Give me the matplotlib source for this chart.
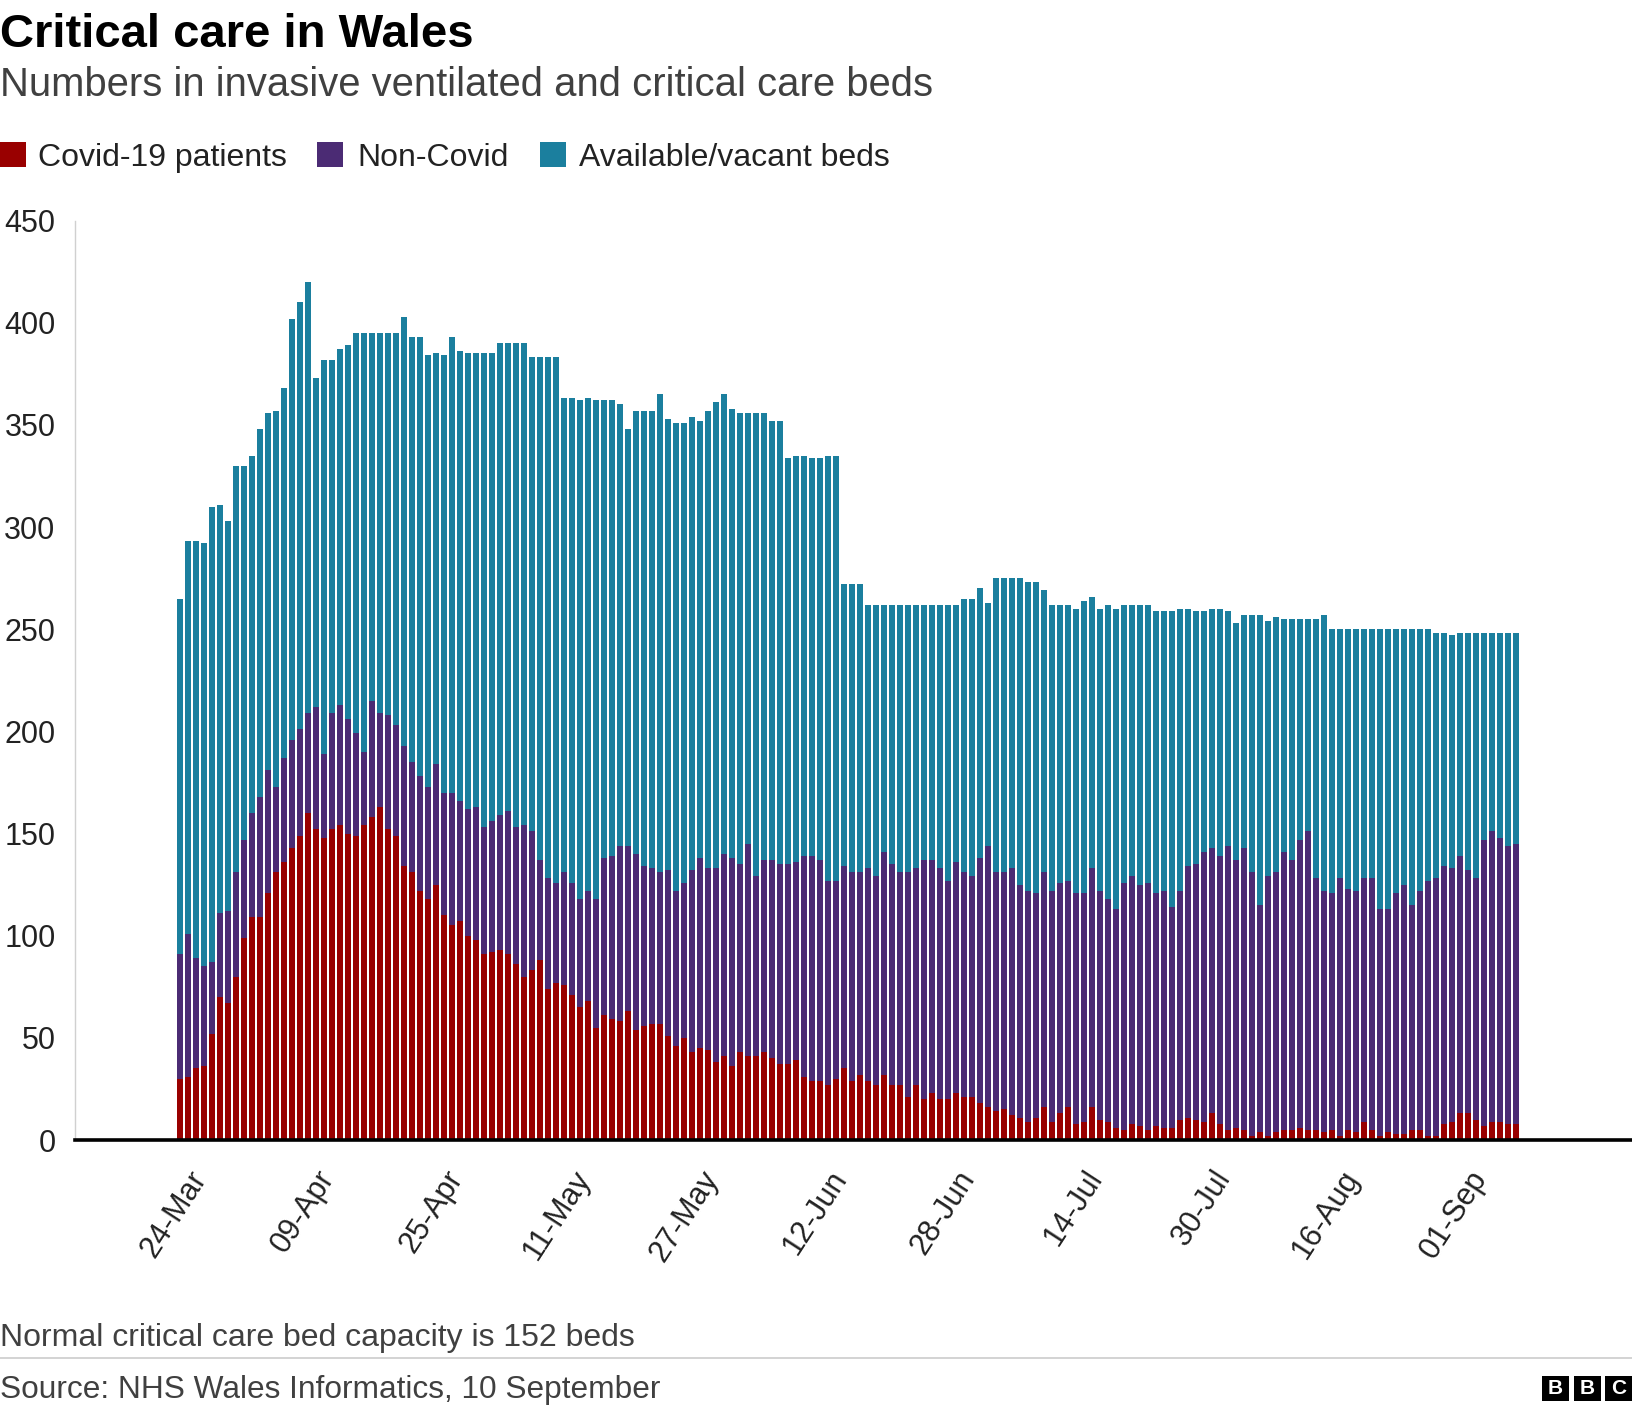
import numpy as np
import matplotlib
matplotlib.use('Agg')
import matplotlib.pyplot as plt
from matplotlib.patches import Rectangle

plt.rcParams['font.family'] = ['Liberation Sans', 'DejaVu Sans']

# daily beds, one bar per day
covid = [30, 31, 35, 36, 52, 70, 67, 80, 99, 109, 109, 121, 131, 136, 143, 149, 160, 152, 148, 152,
         154, 150, 149, 154, 158, 163, 152, 149, 134, 131, 122, 118, 125, 110, 105, 107, 100, 98, 91, 92,
         93, 91, 86, 80, 83, 88, 74, 77, 76, 71, 65, 68, 55, 61, 59, 58, 63, 54, 56, 57,
         57, 51, 46, 50, 43, 45, 44, 38, 41, 36, 43, 41, 41, 43, 40, 37, 37, 39, 31, 29,
         29, 27, 30, 35, 29, 32, 29, 27, 32, 27, 27, 21, 27, 20, 23, 20, 20, 23, 21, 21,
         18, 16, 14, 15, 12, 11, 9, 11, 16, 9, 13, 16, 8, 9, 16, 10, 9, 6, 5, 8,
         7, 5, 7, 6, 6, 10, 11, 10, 9, 13, 8, 5, 6, 5, 2, 4, 2, 4, 5, 5,
         6, 5, 5, 4, 5, 2, 5, 4, 9, 5, 2, 4, 3, 3, 5, 5, 2, 2, 8, 9,
         13, 13, 10, 7, 9, 9, 8, 8]
non_covid = [61, 70, 54, 49, 35, 41, 45, 51, 48, 51, 59, 60, 42, 51, 53, 52, 49, 60, 41, 57,
             59, 56, 50, 36, 57, 46, 56, 54, 59, 54, 56, 55, 59, 60, 65, 59, 62, 65, 62, 64,
             66, 70, 67, 74, 68, 49, 54, 49, 55, 55, 53, 54, 63, 77, 80, 86, 81, 86, 78, 76,
             74, 81, 76, 76, 89, 93, 89, 95, 99, 102, 92, 104, 88, 94, 97, 98, 98, 97, 108, 110,
             108, 100, 97, 99, 102, 99, 104, 102, 109, 108, 104, 110, 106, 117, 114, 113, 107, 113, 110, 108,
             120, 128, 117, 116, 121, 114, 113, 110, 115, 113, 113, 111, 113, 112, 117, 112, 109, 107, 121, 121,
             118, 121, 114, 116, 108, 112, 123, 125, 132, 130, 131, 139, 131, 138, 129, 111, 127, 127, 136, 132,
             141, 146, 123, 118, 116, 126, 118, 118, 119, 123, 111, 109, 118, 122, 110, 117, 125, 126, 126, 124,
             126, 119, 118, 140, 142, 139, 136, 137]
available = [174, 192, 204, 207, 223, 200, 191, 199, 183, 175, 180, 175, 184, 181, 206, 209, 211, 161, 193, 173,
             174, 183, 196, 205, 180, 186, 187, 192, 210, 208, 215, 211, 201, 214, 223, 220, 223, 222, 232, 229,
             231, 229, 237, 236, 232, 246, 255, 257, 232, 237, 244, 241, 244, 224, 223, 216, 204, 217, 223, 224,
             234, 221, 229, 225, 222, 214, 224, 228, 225, 220, 221, 211, 227, 219, 215, 217, 199, 199, 196, 195,
             197, 208, 208, 138, 141, 141, 129, 133, 121, 127, 131, 131, 129, 125, 125, 129, 135, 126, 134, 136,
             132, 119, 144, 144, 142, 150, 151, 152, 138, 140, 136, 135, 139, 143, 133, 138, 144, 147, 136, 133,
             137, 136, 138, 137, 145, 138, 126, 124, 118, 117, 121, 115, 116, 114, 126, 142, 125, 125, 114, 118,
             108, 104, 127, 135, 129, 122, 127, 128, 122, 122, 137, 137, 129, 125, 135, 128, 123, 120, 114, 114,
             109, 116, 120, 101, 97, 100, 104, 103]
tick_labels = ['24-Mar', '09-Apr', '25-Apr', '11-May', '27-May', '12-Jun',
               '28-Jun', '14-Jul', '30-Jul', '16-Aug', '01-Sep']
series_names = ['Covid-19 patients', 'Non-Covid', 'Available/vacant beds']

RED = '#990000'
PURPLE = '#4b2b74'
TEAL = '#1b7f9e'

W, H = 1632, 1414
fig = plt.figure(figsize=(W / 100, H / 100), dpi=100)


def fx(px):
    return px / W


def fy(py):
    return 1 - py / H


ax = fig.add_axes([fx(75), fy(1140), 1 - fx(75), (1140 - 220.6) / H])

x = np.arange(len(covid))
c = np.array(covid)
n = np.array(non_covid)
a = np.array(available)
ax.bar(x, c, width=0.75, color=RED, linewidth=0)
ax.bar(x, n, bottom=c, width=0.75, color=PURPLE, linewidth=0)
ax.bar(x, a, bottom=c + n, width=0.75, color=TEAL, linewidth=0)

ax.set_xlim(-13.1, 181.5)
ax.set_ylim(0, 450)
ax.set_yticks(range(0, 451, 50))
ax.tick_params(axis='y', length=0, pad=14, labelsize=22, labelcolor='#222222')
ax.set_xticks(np.arange(1, 1 + 16 * len(tick_labels), 16))
ax.set_xticklabels(tick_labels, rotation=57, ha='right', va='top', rotation_mode='anchor')
ax.tick_params(axis='x', length=0, pad=18, labelsize=22, labelcolor='#222222')

for s in ['top', 'right']:
    ax.spines[s].set_visible(False)
ax.spines['left'].set_color('#d0d0d0')
ax.spines['left'].set_linewidth(1)
ax.spines['bottom'].set_color('black')
ax.spines['bottom'].set_linewidth(2.6)
ax.spines['bottom'].set_zorder(5)

# titles
fig.text(0, fy(47), 'Critical care in Wales', fontsize=34, weight='bold', va='baseline', color='#000000')
fig.text(0, fy(96), 'Numbers in invasive ventilated and critical care beds', fontsize=28.8,
         va='baseline', color='#404040')

# legend
for (lx, tx), name, col in zip([(0, 38), (317, 357), (540, 579)], series_names, [RED, PURPLE, TEAL]):
    fig.add_artist(Rectangle((fx(lx), fy(166.5)), 26 / W, 25 / H, transform=fig.transFigure,
                             color=col, linewidth=0))
    fig.text(fx(tx), fy(166), name, fontsize=23, va='baseline', color='#222222')

# footer
fig.text(0, fy(1346), 'Normal critical care bed capacity is 152 beds', fontsize=23,
         va='baseline', color='#404040')
fig.add_artist(plt.Line2D([0, 1], [fy(1358), fy(1358)], transform=fig.transFigure,
                          color='#cccccc', linewidth=1.2))
fig.text(0, fy(1398), 'Source: NHS Wales Informatics, 10 September', fontsize=22.8,
         va='baseline', color='#404040')
for i, letter in enumerate('BBC'):
    bx = 1542 + i * 31.5
    fig.add_artist(Rectangle((fx(bx), fy(1401)), 27 / W, 25 / H, transform=fig.transFigure,
                             color='black', linewidth=0))
    fig.text(fx(bx + 13.5), fy(1388.5), letter, fontsize=15, weight='bold', color='white',
             ha='center', va='center')

fig.savefig('out.png', dpi=100)
